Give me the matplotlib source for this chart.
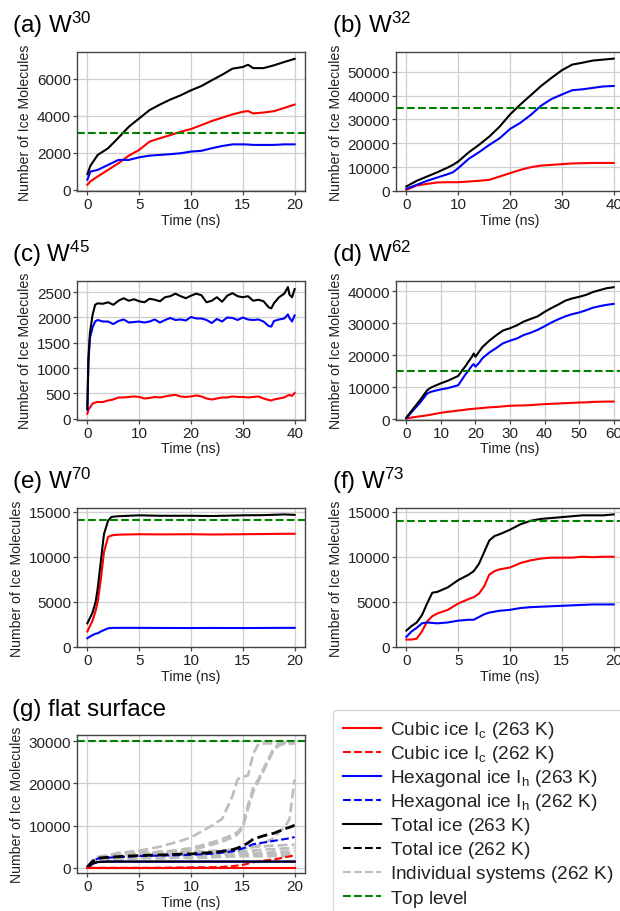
import matplotlib
matplotlib.use("Agg")
import matplotlib.pyplot as plt
from matplotlib.lines import Line2D

plt.rcParams['font.family'] = ['Liberation Sans', 'DejaVu Sans']
plt.rcParams['mathtext.fontset'] = 'custom'
plt.rcParams['mathtext.rm'] = 'Liberation Sans'
plt.rcParams['mathtext.it'] = 'Liberation Sans:italic'
plt.rcParams['mathtext.bf'] = 'Liberation Sans:bold'

# ---------------- data ----------------
# (a) W30, 263 K
t_a = [0, 0.3, 1, 2, 3, 4, 5, 6, 7, 8, 9, 10, 11, 12, 13, 14, 15, 15.5, 16, 17, 18, 19, 20]
cubic_a = [270, 450, 720, 1070, 1430, 1840, 2150, 2600, 2780, 2950, 3130, 3280, 3490, 3710, 3890, 4070, 4210, 4250, 4120, 4170, 4240, 4420, 4600]
hex_a = [540, 980, 1070, 1340, 1610, 1610, 1750, 1840, 1880, 1920, 1970, 2060, 2100, 2240, 2360, 2450, 2450, 2440, 2420, 2420, 2420, 2450, 2450]
total_a = [840, 1300, 1880, 2240, 2810, 3400, 3850, 4300, 4600, 4870, 5100, 5370, 5600, 5910, 6210, 6540, 6630, 6750, 6570, 6570, 6720, 6900, 7070]
top_a = 3080

# (b) W32
t_b = [0, 2, 4, 6, 8, 9, 10, 12, 14, 16, 18, 20, 22, 24, 26, 28, 30, 32, 34, 36, 38, 40]
cubic_b = [400, 2200, 2900, 3500, 3600, 3600, 3600, 3900, 4200, 4600, 6000, 7400, 8800, 9900, 10600, 10900, 11200, 11500, 11600, 11700, 11700, 11700]
hex_b = [840, 2500, 4200, 5600, 7000, 7800, 9500, 13400, 16200, 19300, 22100, 26000, 28600, 31900, 35800, 38600, 40500, 42300, 42700, 43300, 43900, 44100]
total_b = [1800, 4200, 6000, 7800, 9800, 10900, 12300, 16100, 19300, 22800, 27000, 32100, 36300, 40200, 44100, 47500, 50700, 53100, 53900, 54800, 55200, 55600]
top_b = 35000

# (c) W45
t_c = [0, 0.2, 0.5, 1, 1.5, 2, 3, 4, 5, 6, 7, 8, 9, 10, 11, 12, 13, 14, 15, 16, 17, 18, 19, 20,
       21, 22, 23, 24, 25, 26, 27, 28, 29, 30, 31, 32, 33, 34, 35, 35.5, 36, 37, 38, 38.7, 39, 39.5, 40]
cubic_c = [100, 180, 220, 300, 320, 330, 330, 360, 380, 420, 420, 430, 440, 430, 400, 410, 430, 420, 440, 460, 470, 440, 430, 440,
           460, 440, 400, 380, 400, 420, 420, 440, 430, 430, 420, 430, 440, 400, 370, 360, 380, 400, 420, 460, 470, 450, 510]
hex_c = [180, 1100, 1600, 1800, 1920, 1950, 1920, 1920, 1870, 1930, 1960, 1900, 1910, 1920, 1900, 1920, 1960, 1900, 1950, 1990, 1950, 1960, 1940, 2010,
         1980, 1980, 1950, 1890, 1970, 1920, 2000, 1990, 1950, 2000, 1960, 1950, 1960, 1920, 1830, 1820, 1930, 1960, 1980, 2060, 1990, 1920, 2040]
total_c = [200, 1200, 1700, 2050, 2250, 2280, 2270, 2300, 2250, 2330, 2380, 2330, 2360, 2320, 2300, 2370, 2350, 2320, 2400, 2420, 2470, 2420, 2380, 2430,
           2470, 2440, 2300, 2330, 2400, 2310, 2430, 2480, 2420, 2400, 2420, 2330, 2350, 2320, 2200, 2180, 2280, 2400, 2470, 2600, 2450, 2400, 2560]

# (d) W62
t_d = [0, 2, 4, 6, 7, 8, 10, 12, 14, 15, 16, 17, 18, 19, 19.5, 20, 21, 22, 24, 26, 28, 30, 32, 34, 36, 38, 40, 42, 44, 46, 48, 50, 52, 54, 56, 58, 60]
cubic_d = [200, 600, 900, 1200, 1400, 1600, 2000, 2300, 2550, 2700, 2800, 2950, 3100, 3200, 3250, 3300, 3400, 3500, 3700, 3800, 4000, 4200, 4250, 4300, 4400, 4550, 4700, 4800, 4900, 5000, 5100, 5200, 5250, 5400, 5450, 5500, 5500]
hex_d = [300, 2800, 5200, 8000, 8500, 8800, 9300, 9700, 10300, 10600, 12200, 13800, 15200, 16700, 17200, 16400, 17500, 19000, 20800, 22200, 23700, 24500, 25200, 26300, 27000, 27900, 29000, 30200, 31200, 32100, 32800, 33300, 34000, 34800, 35300, 35700, 36000]
total_d = [500, 3300, 6000, 9000, 9800, 10300, 11200, 12000, 13000, 13500, 15000, 16400, 18000, 19500, 20500, 19500, 21000, 22500, 24500, 26200, 27700, 28400, 29300, 30500, 31300, 32100, 33500, 34700, 35800, 37000, 37700, 38200, 38800, 39700, 40300, 40900, 41200]
top_d = 15000

# (e) W70
t_e = [0, 0.5, 0.8, 1, 1.3, 1.6, 2, 2.3, 2.5, 3, 5, 7, 10, 12, 15, 17, 19, 20]
cubic_e = [1700, 2900, 4000, 5000, 7500, 10500, 12200, 12350, 12400, 12450, 12500, 12480, 12500, 12470, 12500, 12520, 12550, 12550]
hex_e = [950, 1300, 1450, 1500, 1700, 1850, 2050, 2080, 2100, 2100, 2100, 2090, 2080, 2090, 2080, 2090, 2100, 2100]
total_e = [2600, 3800, 5000, 6500, 9500, 12500, 14000, 14400, 14450, 14500, 14600, 14550, 14550, 14520, 14600, 14620, 14700, 14650]
top_e = 14100

# (f) W73
t_f = [0, 0.5, 1, 1.5, 2, 2.5, 3, 4, 5, 6, 6.5, 7, 7.5, 8, 8.5, 9, 10, 11, 12, 13, 14, 15, 16, 17, 18, 19, 20]
cubic_f = [800, 800, 900, 1700, 2800, 3400, 3700, 4100, 4800, 5300, 5500, 5900, 6700, 8000, 8400, 8600, 8800, 9300, 9600, 9800, 9900, 9900, 9900, 10000, 9950, 10000, 10000]
hex_f = [1100, 1700, 2100, 2600, 2700, 2650, 2600, 2700, 2900, 3000, 3000, 3300, 3600, 3800, 3900, 4000, 4100, 4300, 4400, 4450, 4500, 4550, 4600, 4650, 4700, 4700, 4700]
total_f = [1800, 2300, 2700, 3500, 4800, 6000, 6100, 6600, 7400, 8000, 8400, 9200, 10500, 11800, 12300, 12500, 13000, 13600, 14000, 14200, 14300, 14400, 14500, 14600, 14600, 14600, 14700]
top_f = 14000

# (g) flat surface
t_g = [0, 0.5, 1, 2, 3, 4, 5, 6, 7, 8, 9, 10, 11, 12, 13, 14, 14.5, 15, 15.5, 16, 16.5, 17, 17.5, 18, 18.5, 19, 19.5, 20]
cubic_g263 = [0] * 28
hex_g263 = [0, 950, 1350, 1450, 1450, 1450, 1450, 1450, 1450, 1450, 1450, 1450, 1450, 1450, 1450, 1450, 1450, 1450, 1450, 1450, 1450, 1450, 1450, 1450, 1450, 1450, 1450, 1450]
total_g263 = [0, 1000, 1400, 1500, 1500, 1500, 1500, 1500, 1500, 1500, 1500, 1500, 1500, 1500, 1500, 1500, 1500, 1500, 1500, 1500, 1500, 1500, 1500, 1500, 1500, 1500, 1500, 1500]
cubic_g262 = [0, 0, 0, 0, 0, 0, 0, 0, 20, 50, 80, 100, 120, 150, 200, 400, 550, 700, 1000, 1300, 1500, 1700, 1850, 2000, 2200, 2500, 2700, 3000]
hex_g262 = [200, 1500, 2200, 2400, 2550, 2650, 2800, 2850, 2900, 2950, 3000, 3100, 3200, 3350, 3600, 3900, 4200, 4600, 5100, 5600, 5800, 6000, 6200, 6400, 6600, 6800, 7000, 7300]
total_g262 = [200, 1500, 2300, 2500, 2650, 2800, 2900, 3000, 3050, 3150, 3250, 3300, 3450, 3650, 3900, 4300, 4700, 5200, 5900, 6800, 7200, 7600, 7900, 8200, 8700, 9200, 9600, 10100]
top_g = 30000
indiv_g = [
    [200, 1800, 2600, 3000, 3400, 3800, 4100, 4500, 5000, 5700, 6400, 7200, 8600, 10000, 11600, 17000, 21000, 21600, 21900, 27000, 29400, 29500, 29500, 29500, 29500, 29600, 29600, 29600],
    [200, 1600, 2400, 2800, 3100, 3300, 3500, 3600, 3800, 4000, 4300, 4700, 5300, 6000, 6800, 7800, 8500, 10000, 15000, 19000, 21000, 23500, 26000, 28500, 29300, 29500, 29600, 29600],
    [200, 1500, 2300, 2700, 3000, 3200, 3400, 3500, 3600, 3800, 4000, 4300, 4800, 5500, 6200, 7200, 8000, 9500, 14000, 18000, 20500, 23000, 25500, 28000, 29000, 29400, 29500, 29500],
    [200, 1400, 2100, 2500, 2800, 3000, 3100, 3200, 3300, 3400, 3500, 3500, 3600, 3700, 3900, 4100, 4300, 4500, 4800, 5000, 5300, 5800, 6500, 7000, 8500, 9500, 11500, 21000],
    [200, 1700, 2500, 2900, 3600, 3300, 3800, 3500, 3900, 3600, 3700, 3800, 3900, 4000, 4100, 4300, 4400, 4600, 4800, 4900, 5000, 5100, 5200, 5300, 5300, 5400, 5400, 5500],
    [200, 1300, 2000, 2400, 2700, 3200, 2800, 3100, 2900, 3000, 3200, 3100, 3300, 3200, 3400, 3500, 3700, 3900, 4000, 4100, 4200, 4300, 4400, 4400, 4500, 4600, 4600, 4700],
    [200, 1200, 1900, 2300, 2400, 2600, 2700, 2800, 2900, 2800, 2900, 3000, 2900, 3000, 3100, 3200, 3300, 3500, 3400, 3600, 3500, 3700, 3600, 3800, 3700, 3900, 3800, 4000],
    [200, 1100, 1700, 2000, 2200, 2300, 2400, 2500, 2600, 2500, 2600, 2700, 2800, 2700, 2900, 3000, 3100, 3000, 3200, 3100, 3300, 3200, 3300, 3200, 3300, 3300, 3200, 3300],
    [200, 1000, 1600, 1900, 2000, 2100, 2200, 2300, 2200, 2300, 2400, 2300, 2400, 2500, 2600, 2700, 2600, 2800, 2700, 2800, 2700, 2800, 2700, 2800, 2700, 2800, 2700, 2800],
]

titles = [r"(a) W$^{30}$", r"(b) W$^{32}$", r"(c) W$^{45}$", r"(d) W$^{62}$",
          r"(e) W$^{70}$", r"(f) W$^{73}$", "(g) flat surface"]
legend_labels = [r"$\mathregular{Cubic\ ice\ I_c\ (263\ K)}$",
                 r"$\mathregular{Cubic\ ice\ I_c\ (262\ K)}$",
                 r"$\mathregular{Hexagonal\ ice\ I_h\ (263\ K)}$",
                 r"$\mathregular{Hexagonal\ ice\ I_h\ (262\ K)}$",
                 r"$\mathregular{Total\ ice\ (263\ K)}$",
                 r"$\mathregular{Total\ ice\ (262\ K)}$",
                 r"$\mathregular{Individual\ systems\ (262\ K)}$",
                 r"$\mathregular{Top\ level}$"]

# ---------------- figure ----------------
W, H, DPI = 620, 912, 100
fig = plt.figure(figsize=(W / DPI, H / DPI), dpi=DPI)

TXT = '#222222'
SP = '#444444'

def make_ax(left, top, width=228, height=139):
    ax = fig.add_axes([left / W, 1 - (top + height) / H, width / W, height / H])
    for s in ax.spines.values():
        s.set_color(SP)
        s.set_linewidth(1.0)
    ax.grid(True, color='#cfcfcf', linewidth=0.9)
    ax.set_axisbelow(True)
    ax.tick_params(direction='out', length=2.8, width=0.9, color=SP, labelsize=11,
                   labelcolor=TXT, pad=1.6)
    ax.set_xlabel("Time (ns)", fontsize=10.2, color=TXT, labelpad=1)
    ax.set_ylabel("Number of Ice Molecules", fontsize=10.2, color=TXT, labelpad=3.5)
    fig.text((left - 64.5) / W, 1 - (top - 20) / H, titles[len(fig.axes) - 1],
             fontsize=17.4, color='black', ha='left', va='baseline')
    return ax

RED, BLUE, BLACK, GREEN, GRAY = '#ff0000', '#0000ff', '#000000', '#008000', '#bdbdbd'
LW = 1.5

def std_panel(ax, t, cub, hexa, tot, top, xlim, ylim, xticks, yticks):
    ax.plot(t, cub, color=RED, lw=LW)
    ax.plot(t, hexa, color=BLUE, lw=LW)
    ax.plot(t, tot, color=BLACK, lw=LW)
    if top is not None:
        ax.axhline(top, color=GREEN, lw=LW, ls='--')
    ax.set_xlim(*xlim)
    ax.set_ylim(*ylim)
    ax.set_xticks(xticks)
    ax.set_yticks(yticks)

ax_a = make_ax(77, 53)
std_panel(ax_a, t_a, cubic_a, hex_a, total_a, top_a, (-1, 21), (-70, 7440),
          [0, 5, 10, 15, 20], [0, 2000, 4000, 6000])
ax_b = make_ax(396, 53)
std_panel(ax_b, t_b, cubic_b, hex_b, total_b, top_b, (-2, 42), (-100, 58400),
          [0, 10, 20, 30, 40], [0, 10000, 20000, 30000, 40000, 50000])
ax_c = make_ax(77, 281.5)
std_panel(ax_c, t_c, cubic_c, hex_c, total_c, None, (-2, 42), (-15, 2730),
          [0, 10, 20, 30, 40], [0, 500, 1000, 1500, 2000, 2500])
ax_d = make_ax(396, 281.5)
std_panel(ax_d, t_d, cubic_d, hex_d, total_d, top_d, (-3, 63), (-100, 43300),
          [0, 10, 20, 30, 40, 50, 60], [0, 10000, 20000, 30000, 40000])
ax_e = make_ax(77, 509.3)
std_panel(ax_e, t_e, cubic_e, hex_e, total_e, top_e, (-1, 21), (-60, 15380),
          [0, 5, 10, 15, 20], [0, 5000, 10000, 15000])
ax_f = make_ax(396, 509.3)
std_panel(ax_f, t_f, cubic_f, hex_f, total_f, top_f, (-1, 21), (-60, 15380),
          [0, 5, 10, 15, 20], [0, 5000, 10000, 15000])

ax_g = make_ax(77, 736, height=138.3)
for s in indiv_g:
    ax_g.plot(t_g, s, color=GRAY, lw=1.9, ls='--')
ax_g.plot(t_g, cubic_g262, color=RED, lw=LW, ls='--')
ax_g.plot(t_g, hex_g262, color=BLUE, lw=LW, ls='--')
ax_g.plot(t_g, total_g262, color=BLACK, lw=2.0, ls='--')
ax_g.plot(t_g, hex_g263, color=BLUE, lw=LW)
ax_g.plot(t_g, total_g263, color=BLACK, lw=LW)
ax_g.plot(t_g, cubic_g263, color=RED, lw=LW)
ax_g.axhline(top_g, color=GREEN, lw=LW, ls='--')
ax_g.set_xlim(-1, 21)
ax_g.set_ylim(-1300, 31500)
ax_g.set_xticks([0, 5, 10, 15, 20])
ax_g.set_yticks([0, 10000, 20000, 30000])

handles = [Line2D([], [], color=RED, lw=LW), Line2D([], [], color=RED, lw=LW, ls='--'),
           Line2D([], [], color=BLUE, lw=LW), Line2D([], [], color=BLUE, lw=LW, ls='--'),
           Line2D([], [], color=BLACK, lw=LW), Line2D([], [], color=BLACK, lw=LW, ls='--'),
           Line2D([], [], color=GRAY, lw=LW, ls='--'), Line2D([], [], color=GREEN, lw=LW, ls='--')]
leg = fig.legend(handles, legend_labels, loc='upper left',
                 bbox_to_anchor=(333 / W, 1 - 710.7 / H), bbox_transform=fig.transFigure,
                 fontsize=13.7, frameon=True, fancybox=True, handlelength=2.0,
                 handletextpad=0.5, labelspacing=0.16, borderpad=0.5, borderaxespad=0)
leg.get_frame().set_edgecolor('#cccccc')
leg.get_frame().set_linewidth(1.0)
for txt in leg.get_texts():
    txt.set_color(TXT)

fig.savefig("out.png", dpi=DPI)
